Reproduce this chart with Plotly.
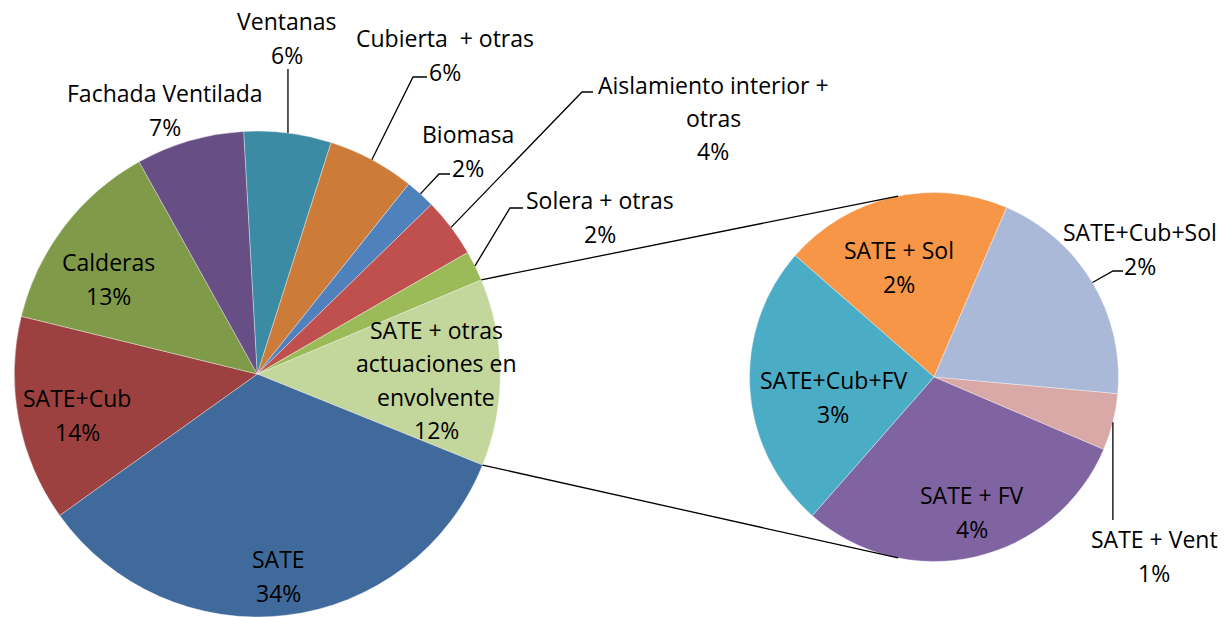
import math
import plotly.graph_objects as go

# ---------------- data (shares in %) ----------------
main_names = ["SATE", "SATE+Cub", "Calderas", "Fachada Ventilada", "Ventanas",
              "Cubierta  + otras", "Biomasa", "Aislamiento interior +<br>otras", "Solera + otras"]
main_values = [34.0, 13.7, 13.1, 7.2, 5.8, 5.8, 2.0, 3.95, 2.0]
other_name = "SATE + otras<br>actuaciones en<br>envolvente"

sub_names = ["SATE + Sol", "SATE+Cub+Sol", "SATE + Vent", "SATE + FV", "SATE+Cub+FV"]
sub_values = [2.49, 2.49, 0.62, 3.74, 3.11]

# ---------------- styles ----------------
other_color = "#C3D69B"
main_colors = ["#406A9C", "#9C413F", "#7F9A48", "#674F85", "#3A8BA3",
               "#CC7B38", "#4F81BD", "#C0504D", "#9BBB59"]
sub_colors = ["#F79646", "#A9B9D7", "#D9A9A8", "#8064A2", "#4BACC6"]

W, H = 1225, 617
FONT = dict(family="Open Sans, sans-serif", size=23, color="black")
LINE_H = 33.3

other_value = sum(sub_values)
all_names = [other_name] + main_names
all_values = [other_value] + main_values
all_colors = [other_color] + main_colors
total = sum(all_values)

# geometry (pixels)
MC, MR = (257.3, 374), 243
SC, SR = (934, 377), 184.5
other_deg = 360.0 * other_value / total
main_rot = 89.6 - other_deg / 2
sub_rot = -48.8


def px(x):
    return x / W


def py(y):
    return 1 - y / H


def pct(v):
    return int(v / total * 100 + 0.5)


SEAM = dict(width=0.5, color="rgba(255,255,255,0.7)")
fig = go.Figure()
fig.add_trace(go.Pie(
    labels=[n.replace("<br>", " ") for n in all_names], values=all_values,
    marker=dict(colors=all_colors, line=SEAM),
    sort=False, direction="clockwise", rotation=main_rot,
    textinfo="none", hoverinfo="label+percent", showlegend=False,
    domain=dict(x=[px(MC[0] - MR), px(MC[0] + MR)], y=[0, (2 * MR) / H]),
))
fig.add_trace(go.Pie(
    labels=sub_names, values=sub_values,
    marker=dict(colors=sub_colors, line=SEAM),
    sort=False, direction="clockwise", rotation=sub_rot,
    textinfo="none", hoverinfo="label", showlegend=False,
    domain=dict(x=[px(SC[0] - SR), px(SC[0] + SR)],
                y=[(H - SC[1] - SR) / H, (H - SC[1] + SR) / H]),
))


def rim(center, r, ang):
    a = math.radians(ang)
    return center[0] + r * math.sin(a), center[1] - r * math.cos(a)


def mid_angles(values, rot):
    tot = sum(values)
    out, cum = [], 0
    for v in values:
        out.append(rot + 360.0 * (cum + v / 2) / tot)
        cum += v
    return out


main_mid = mid_angles(all_values, main_rot)
sub_mid = mid_angles(sub_values, sub_rot)

# label positions (pixel centres of text blocks)
main_label_pos = {
    other_name: (436, 380), "SATE": (278, 576), "SATE+Cub": (77, 415),
    "Calderas": (108, 279), "Fachada Ventilada": (165, 110), "Ventanas": (287, 38),
    "Cubierta  + otras": (445, 55), "Biomasa": (468, 151),
    "Aislamiento interior +<br>otras": (713, 118), "Solera + otras": (600, 217),
}
sub_label_pos = {
    "SATE + Sol": (899, 267), "SATE+Cub+Sol": (1140, 249), "SATE + Vent": (1154, 556),
    "SATE + FV": (972, 512), "SATE+Cub+FV": (833, 397),
}

annotations = []


def add_label(name, value, pos):
    lines = name.split("<br>") + [f"{pct(value)}%"]
    n = len(lines)
    for i, t in enumerate(lines):
        y = pos[1] + (i - (n - 1) / 2) * LINE_H
        annotations.append(dict(x=px(pos[0]), y=py(y), xref="paper", yref="paper",
                                text=t.replace("  ", "&nbsp; "), showarrow=False,
                                xanchor="center", yanchor="middle", align="center",
                                font=FONT))


for n, v in zip(all_names, all_values):
    add_label(n, v, main_label_pos[n])
for n, v in zip(sub_names, sub_values):
    add_label(n, v, sub_label_pos[n])

# leader lines: label-side elbow points
main_leaders = {
    "Ventanas": [None, 69],
    "Cubierta  + otras": [(413, 77), (427, 77)],
    "Biomasa": [(439, 174), (450, 174)],
    "Aislamiento interior +<br>otras": [(582, 92), (593, 92)],
    "Solera + otras": [(510, 208), (523, 208)],
}
sub_leaders = {
    "SATE+Cub+Sol": [(1113, 271), (1123, 271)],
    "SATE + Vent": [None, 520],
}
LINE = dict(color="black", width=1.3)
shapes = []


def add_leader(start, pts):
    if pts[0] is None:
        path = f"M{px(start[0])},{py(start[1])} L{px(start[0])},{py(pts[1])}"
    else:
        path = f"M{px(start[0])},{py(start[1])}" + "".join(
            f" L{px(a)},{py(b)}" for a, b in pts)
    shapes.append(dict(type="path", path=path, xref="paper", yref="paper", line=LINE))


for n, ang in zip(all_names, main_mid):
    if n in main_leaders:
        add_leader(rim(MC, MR, ang), main_leaders[n])
for n, ang in zip(sub_names, sub_mid):
    if n in sub_leaders:
        add_leader(rim(SC, SR, ang), sub_leaders[n])

# connector lines between the two pies
for a_main, a_sub in [(main_rot, -11.2), (main_rot + other_deg, 191.2)]:
    x0, y0 = rim(MC, MR, a_main)
    x1, y1 = rim(SC, SR, a_sub)
    shapes.append(dict(type="line", xref="paper", yref="paper",
                       x0=px(x0), y0=py(y0), x1=px(x1), y1=py(y1), line=LINE))

fig.update_layout(
    width=W, height=H, margin=dict(l=0, r=0, t=0, b=0),
    paper_bgcolor="white", plot_bgcolor="white",
    annotations=annotations, shapes=shapes, showlegend=False,
)
fig.write_html("out.html", config={"displayModeBar": False},
               post_script="document.body.style.margin='0';document.body.style.overflow='hidden';")
